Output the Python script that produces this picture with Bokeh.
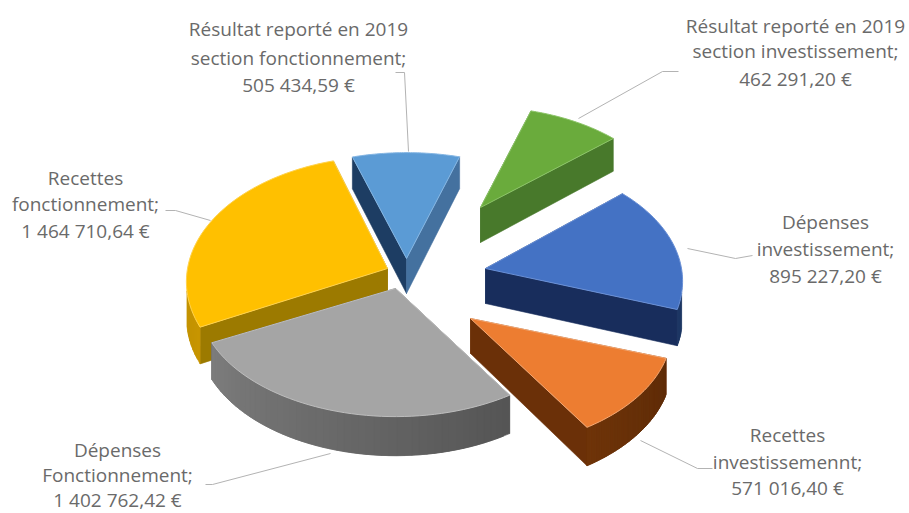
from math import sin, cos, radians
from bokeh.plotting import figure
from bokeh.models import Range1d, ColumnDataSource
from bokeh.core.properties import value
from bokeh.embed import file_html
from bokeh.resources import INLINE

# --- data (clockwise from the first slice) ---
categories = [
    ["Résultat reporté en 2019", "section investissement;"],
    ["Dépenses", "investissement;"],
    ["Recettes", "investissemennt;"],
    ["Dépenses", "Fonctionnement;"],
    ["Recettes", "fonctionnement;"],
    ["Résultat reporté en 2019", "section fonctionnement;"],
]
values = [462291.20, 895227.20, 571016.40, 1402762.42, 1464710.64, 505434.59]

# --- style / layout ---
top_colors = ["#6AAB3C", "#4472C4", "#ED7D31", "#A5A5A5", "#FFC000", "#5B9BD5"]
edge_colors = ["#8CC468", "#6A90D6", "#F5A873", "#BDBDBD", "#FFD24D", "#85B6E3"]
# wall colours: radial face at slice start, radial face at slice end, arc at low/high angle
wall_start = ["#48792B", "#1F3864", "#7A3A0D", "#555555", "#9C7A00", "#1D3D63"]
wall_end = ["#48792B", "#182D5C", "#6B3008", "#555555", "#9C7A00", "#44719F"]
arc_a = ["#48792B", "#1F3864", "#5F2C08", "#555555", "#C79500", "#44719F"]
arc_b = ["#48792B", "#1F3864", "#6E3409", "#7C7C7C", "#B58900", "#44719F"]
apex = [(480, 207), (485, 268), (470, 318), (395, 288), (387, 268), (406, 258)]
scale_x = [0.95, 0.98, 1.0, 0.98, 1.0, 1.0]
scale_y = [0.95, 1.03, 1.0, 0.98, 1.06, 1.0]
draw_order = [5, 0, 1, 4, 2, 3]
START = 17.0
RX, RY, K, DEPTH = 200.0, 117.0, 0.105, 35.0

label_x = [795, 825, 787, 117, 85, 298]
label_y = [(25, 50, 78), (221, 248, 275), (434, 461, 487), (449, 474, 499), (177, 203, 230), (28, 57, 84)]
leaders = [
    ([578, 662, 678], [118, 71, 71]),
    ([687, 735, 752], [248, 258, 255]),
    ([640, 697, 712], [440, 468, 468]),
    ([330, 212, 205], [453, 484, 484]),
    ([210, 175, 165], [220, 210, 210]),
    ([408, 404, 395], [151, 72, 72]),
]

W, H = 909, 513
p = figure(width=W, height=H, x_range=Range1d(0, W), y_range=Range1d(H, 0),
           output_backend="svg", toolbar_location=None, min_border=0, outline_line_color=None)
p.axis.visible = False
p.grid.visible = False
p.background_fill_color = "white"


def project(c, t_deg, sx, sy):
    t = radians(t_deg)
    w = 1.0 / (1.0 + K * cos(t))
    return c[0] + sx * RX * sin(t) * w, c[1] - sy * RY * cos(t) * w, DEPTH * w


def lerp_color(a, b, f):
    ca = [int(a[i:i + 2], 16) for i in (1, 3, 5)]
    cb = [int(b[i:i + 2], 16) for i in (1, 3, 5)]
    return "#%02x%02x%02x" % tuple(round(x + (y - x) * f) for x, y in zip(ca, cb))


total = sum(values)
spans = []
a = START
for v in values:
    b = a + 360.0 * v / total
    spans.append((a, b))
    a = b


def quad(p1, p2, color):
    xs = [p1[0], p2[0], p2[0], p1[0]]
    ys = [p1[1], p2[1], p2[1] + p2[2], p1[1] + p1[2]]
    p.patch(xs, ys, fill_color=color, line_color=color, line_width=0.6)


for i in draw_order:
    s, e = spans[i]
    c = apex[i]
    n = 48
    angles = [s + (e - s) * k / n for k in range(n + 1)]
    pts = [project(c, t, scale_x[i], scale_y[i]) for t in angles]
    base = (c[0], c[1], DEPTH)
    quad(base, pts[0], wall_start[i])
    quad(base, pts[-1], wall_end[i])
    for k in range(n):
        mid = (angles[k] + angles[k + 1]) / 2
        if cos(radians(mid)) < -0.2:
            quad(pts[k], pts[min(k + 2, n)], lerp_color(arc_a[i], arc_b[i], k / (n - 1)))
    p.patch([c[0]] + [q[0] for q in pts], [c[1]] + [q[1] for q in pts],
            fill_color=top_colors[i], line_color=edge_colors[i], line_width=1)

for xs, ys in leaders:
    p.line(xs, ys, line_color="#B3B3B3", line_width=1)

tx, ty, tt = [], [], []
for cat, v, x, ys in zip(categories, values, label_x, label_y):
    amount = f"{v:,.2f}".replace(",", " ").replace(".", ",") + " €"
    for line, y in zip(cat + [amount], ys):
        tx.append(x)
        ty.append(y)
        tt.append(line)
src = ColumnDataSource(dict(x=tx, y=ty, t=tt))
p.text("x", "y", text="t", source=src, text_font=value("Open Sans"), text_font_size="19px",
       text_color="#6A6A6A", text_align="center", text_baseline="middle")

open("out.html", "w").write(file_html(p, INLINE))
